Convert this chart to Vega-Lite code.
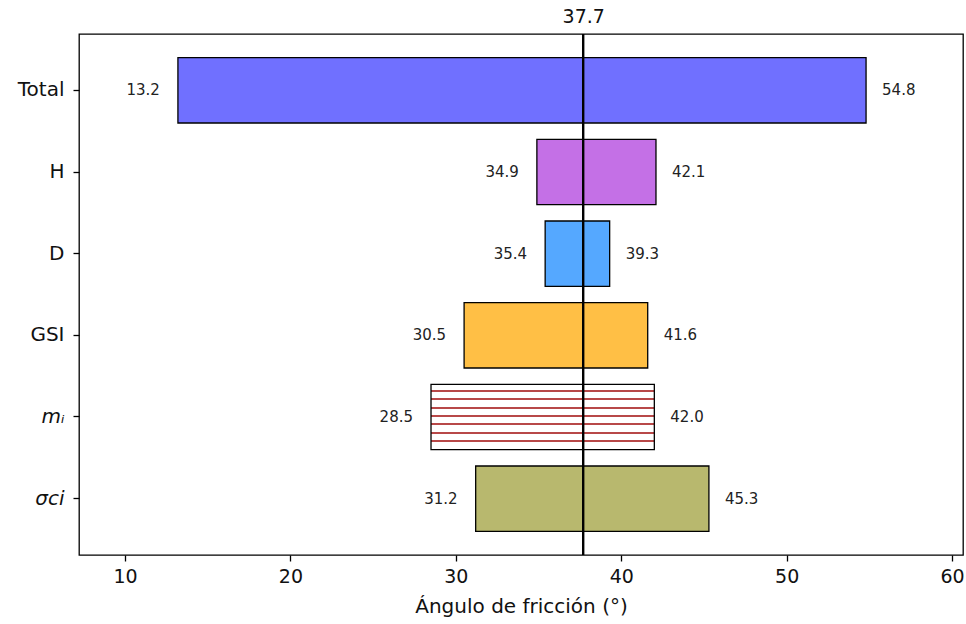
{
  "$schema": "https://vega.github.io/schema/vega-lite/v6.json",
  "width": 884,
  "height": 521,
  "autosize": {"type": "none"},
  "padding": {"left": 79, "top": 34, "right": 3, "bottom": 69},
  "background": "white",
  "config": {
    "view": {"stroke": "black", "strokeWidth": 1.3},
    "font": "DejaVu Sans",
    "axis": {
      "labelFont": "DejaVu Sans",
      "titleFont": "DejaVu Sans",
      "labelColor": "#111111",
      "titleColor": "#111111",
      "grid": false,
      "domain": false,
      "tickColor": "black",
      "tickWidth": 1.3,
      "tickSize": 6,
      "labelFontSize": 19,
      "titleFontSize": 20,
      "titleFontWeight": "normal"
    }
  },
  "data": {
    "values": [
      {"factor": "Total", "low": 13.2, "high": 54.8},
      {"factor": "H", "low": 34.9, "high": 42.1},
      {"factor": "D", "low": 35.4, "high": 39.3},
      {"factor": "GSI", "low": 30.5, "high": 41.6},
      {"factor": "mᵢ", "low": 28.5, "high": 42.0},
      {"factor": "σci", "low": 31.2, "high": 45.3}
    ]
  },
  "layer": [
    {
      "mark": {"type": "bar", "stroke": "black", "strokeWidth": 1.3},
      "encoding": {
        "y": {
          "field": "factor",
          "type": "nominal",
          "sort": null,
          "scale": {"paddingInner": 0.2, "paddingOuter": 0.29},
          "axis": {
            "title": null,
            "labelPadding": 9,
            "labelFontSize": 20,
            "labelFontStyle": {"condition": {"test": "datum.value === 'mᵢ' || datum.value === 'σci'", "value": "italic"}, "value": "normal"}
          }
        },
        "x": {
          "field": "low",
          "type": "quantitative",
          "scale": {"domain": [7.22, 60.66], "nice": false, "zero": false},
          "axis": {"title": "Ángulo de fricción (°)", "values": [10, 20, 30, 40, 50, 60], "labelPadding": 6, "titlePadding": 10}
        },
        "x2": {"field": "high"},
        "fill": {
          "condition": {
            "test": "datum.factor === 'mᵢ'",
            "value": {
              "gradient": "linear", "x1": 0, "y1": 0, "x2": 0, "y2": 1,
              "stops": [
                {"offset": 0, "color": "white"},
                {"offset": 0.088, "color": "white"}, {"offset": 0.088, "color": "#b84848"}, {"offset": 0.118, "color": "#b84848"}, {"offset": 0.118, "color": "white"},
                {"offset": 0.2155, "color": "white"}, {"offset": 0.2155, "color": "#b84848"}, {"offset": 0.2455, "color": "#b84848"}, {"offset": 0.2455, "color": "white"},
                {"offset": 0.343, "color": "white"}, {"offset": 0.343, "color": "#b84848"}, {"offset": 0.373, "color": "#b84848"}, {"offset": 0.373, "color": "white"},
                {"offset": 0.4705, "color": "white"}, {"offset": 0.4705, "color": "#b84848"}, {"offset": 0.5005, "color": "#b84848"}, {"offset": 0.5005, "color": "white"},
                {"offset": 0.598, "color": "white"}, {"offset": 0.598, "color": "#b84848"}, {"offset": 0.628, "color": "#b84848"}, {"offset": 0.628, "color": "white"},
                {"offset": 0.7255, "color": "white"}, {"offset": 0.7255, "color": "#b84848"}, {"offset": 0.7555, "color": "#b84848"}, {"offset": 0.7555, "color": "white"},
                {"offset": 0.853, "color": "white"}, {"offset": 0.853, "color": "#b84848"}, {"offset": 0.883, "color": "#b84848"}, {"offset": 0.883, "color": "white"},
                {"offset": 1, "color": "white"}
              ]
            }
          },
          "field": "factor",
          "type": "nominal",
          "scale": {
            "domain": ["Total", "H", "D", "GSI", "mᵢ", "σci"],
            "range": ["#7070ff", "#c470e6", "#55a8ff", "#ffbf45", "#e6c4c4", "#b8b86e"]
          },
          "legend": null
        }
      }
    },
    {
      "mark": {"type": "text", "align": "right", "baseline": "middle", "dx": -18, "fontSize": 15, "color": "#222222"},
      "encoding": {
        "y": {"field": "factor", "type": "nominal", "sort": null},
        "x": {"field": "low", "type": "quantitative", "axis": null},
        "text": {"field": "low", "type": "quantitative", "format": ".1f"}
      }
    },
    {
      "mark": {"type": "text", "align": "left", "baseline": "middle", "dx": 16, "fontSize": 15, "color": "#222222"},
      "encoding": {
        "y": {"field": "factor", "type": "nominal", "sort": null},
        "x": {"field": "high", "type": "quantitative", "axis": null},
        "text": {"field": "high", "type": "quantitative", "format": ".1f"}
      }
    },
    {
      "data": {"values": [{"mean": 37.7}]},
      "mark": {"type": "rule", "color": "black", "strokeWidth": 2.4},
      "encoding": {
        "x": {
          "field": "mean",
          "type": "quantitative",
          "axis": {"orient": "top", "values": [37.7], "ticks": false, "labelPadding": 8, "title": null, "format": ".1f", "labelFontSize": 19}
        }
      }
    }
  ],
  "resolve": {"axis": {"x": "independent"}}
}
